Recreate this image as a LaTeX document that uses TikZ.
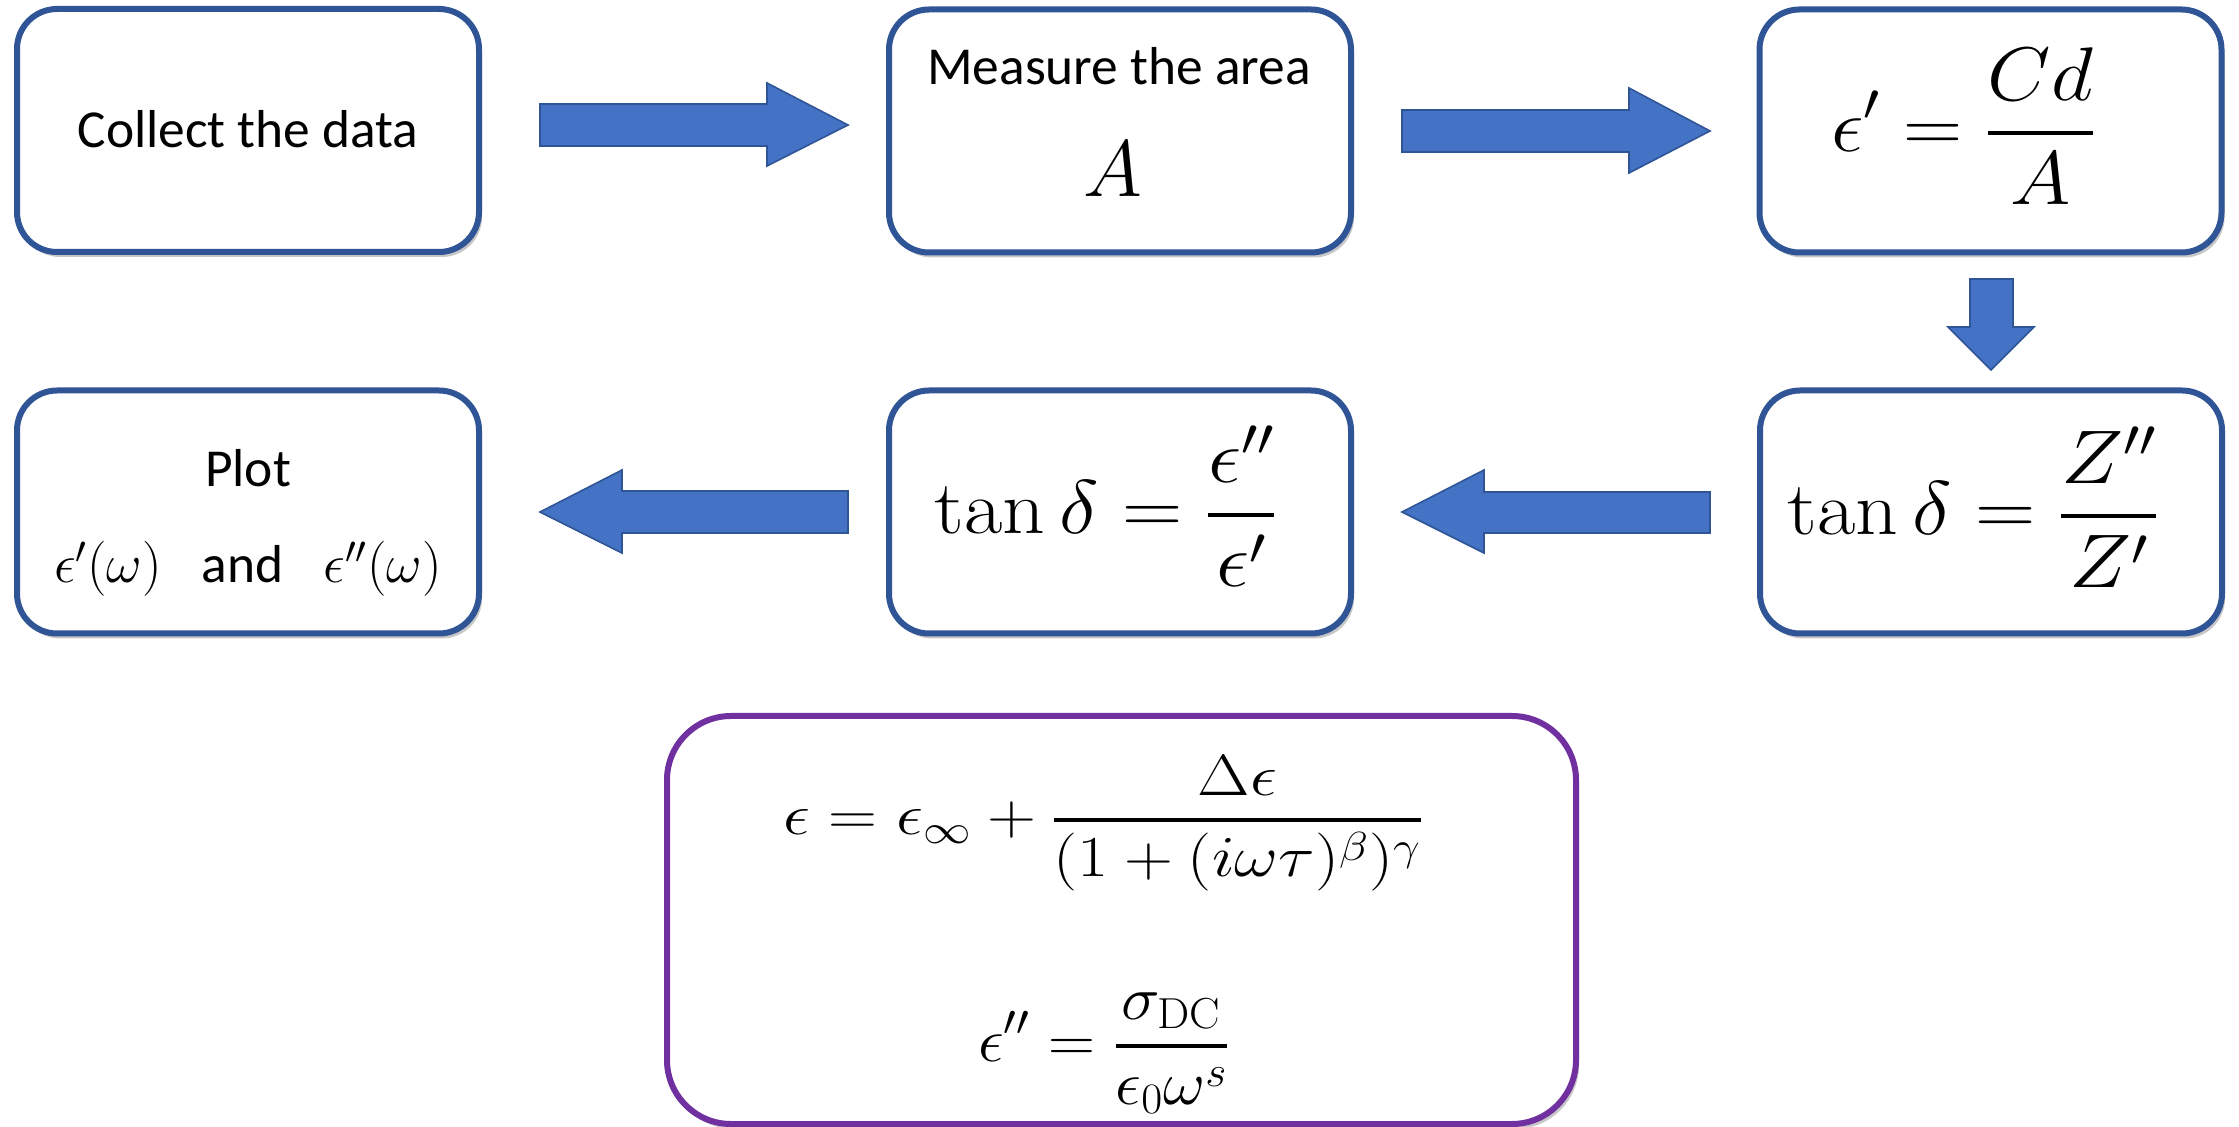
\RequirePackage{fix-cm}
\documentclass[tikz,border=0pt]{standalone}
\usepackage{amsmath}
\usepackage{graphicx}
\usepackage{fontspec}
\newfontfamily\carl{Carlito}
\usetikzlibrary{shadows}
\definecolor{bbord}{HTML}{2F5597}
\definecolor{bfill}{HTML}{4472C4}
\definecolor{pbord}{HTML}{7030A0}
\newcommand\bfr[2]{\genfrac{}{}{2pt}{0}{#1}{#2}}
\newcommand\sfr[2]{\genfrac{}{}{1.7pt}{0}{#1}{#2}}
\tikzset{
 box/.style={draw=bbord, line width=3pt, fill=white, rounded corners=20pt,
   minimum width=231pt, minimum height=121.5pt, inner sep=0pt,
   drop shadow={shadow xshift=1.5pt, shadow yshift=-2.5pt, opacity=0.22, fill=black}},
 pbox/.style={box, draw=pbord, rounded corners=32pt, minimum width=454.5pt, minimum height=204pt},
 barrow/.style={fill=bfill, draw=bbord, line width=0.8pt, line join=miter},
 txt/.style={inner sep=0pt, anchor=base, font=\carl\fontsize{26.7}{31}\selectfont},
 eqb/.style={inner sep=0pt, anchor=base, font=\fontsize{38}{45}\selectfont},
 eqs/.style={inner sep=0pt, anchor=base, font=\fontsize{29}{35}\selectfont},
}
\begin{document}
\begin{tikzpicture}[x=0.5pt,y=-0.5pt]
\useasboundingbox (0,0) rectangle (2239,1127);
% boxes
\node[box] (b1) at (248,130.5) {};
\node[box] (b2) at (1120,131) {};
\node[box] (b3) at (1990.5,131) {};
\node[box] (b4) at (248,512) {};
\node[box] (b5) at (1120,512) {};
\node[box] (b6) at (1991,512) {};
\node[pbox] (b7) at (1121.5,920) {};
% texts
\node[txt] (t1) at (248,148) {Collect the data};
\node[txt] (t2) at (1119,85) {Measure the area};
\node[inner sep=0pt, anchor=base, font=\fontsize{40}{48}\selectfont] (t2a) at (1113,197) {$A$};
\node[eqb] (t3) at (1963.5,152) {\scalebox{1.08}[1]{$\displaystyle \epsilon' = \bfr{Cd}{A}$}};
\node[eqb] (t6) at (1973.5,535) {\scalebox{1.1}[1]{$\displaystyle \tan\delta = \bfr{Z''}{Z'}$}};
\node[eqb] (t5) at (1106,534) {\scalebox{1.1}[1]{$\displaystyle \tan\delta = \bfr{\epsilon''}{\epsilon'}$}};
\node[txt] (t4) at (248,487) {Plot};
\node[txt] (t4b) at (248,583) {{\fontsize{27.5}{31}\selectfont$\epsilon'(\omega)$}\hspace{20pt}and\hspace{20pt}{\fontsize{27.5}{31}\selectfont$\epsilon''(\omega)$}};
\node[eqs] (t7) at (1103.5,834.5) {\scalebox{1.17}[1]{$\displaystyle \epsilon = \epsilon_\infty + \sfr{\Delta\epsilon}{(1+(i\omega\tau)^\beta)^\gamma}$}};
\node[eqs, font=\fontsize{31}{37}\selectfont] (t8) at (1104,1061.5) {\scalebox{1.05}[1]{$\displaystyle \epsilon'' = \sfr{\sigma_{\mathrm{DC}}}{\epsilon_0\omega^s}$}};
% block arrows
\draw[barrow] (540,104) -- (767,104) -- (767,83) -- (848,125) -- (767,166) -- (767,146) -- (540,146) -- cycle;
\draw[barrow] (1402,110) -- (1629,110) -- (1629,88) -- (1710,131) -- (1629,173) -- (1629,152) -- (1402,152) -- cycle;
\draw[barrow] (1970,279) -- (2013,279) -- (2013,327) -- (2034,327) -- (1991,370) -- (1948,327) -- (1970,327) -- cycle;
\draw[barrow] (848,491) -- (622,491) -- (622,470) -- (540,512) -- (622,553) -- (622,533) -- (848,533) -- cycle;
\draw[barrow] (1710,492) -- (1484,492) -- (1484,470) -- (1402,512) -- (1484,553) -- (1484,533) -- (1710,533) -- cycle;
\end{tikzpicture}
\end{document}
